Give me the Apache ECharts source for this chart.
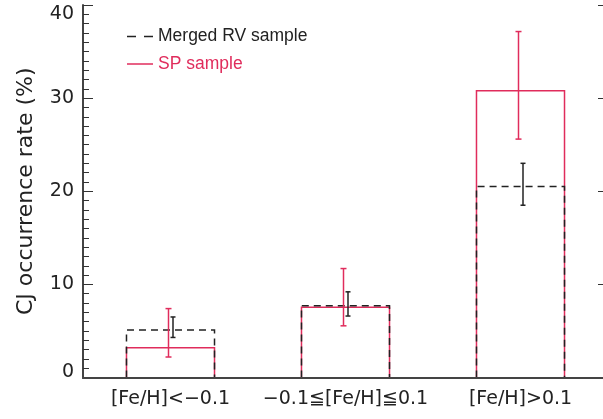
<!DOCTYPE html>
<html>
<head>
<meta charset="utf-8">
<script src="https://cdn.jsdelivr.net/npm/echarts@6/dist/echarts.min.js"></script>
<style>html,body{margin:0;padding:0;background:#fff;overflow:hidden;}#chart{width:610px;height:419px;}</style>
</head>
<body>
<div id="chart"></div>
<script>
const categories = ['[Fe/H]<\u22120.1', '\u22120.1\u2266[Fe/H]\u22660.1', '[Fe/H]>0.1'];
const mergedRate = [5.1, 7.7, 20.5];
const mergedLow = [4.3, 6.6, 18.5];
const mergedHigh = [6.5, 9.2, 23.0];
const spRate = [3.2, 7.55, 30.8];
const spLow = [2.2, 5.55, 25.6];
const spHigh = [7.4, 11.7, 37.15];
const yMin = 0, yMax = 40, yStep = 10;

const RED = '#e02c5c';
const BLACK = '#222';
const BAR_FRAC = 0.503;

function outlineRender(color, dash) {
  return function (params, api) {
    const top = api.coord([api.value(0), api.value(1)]);
    const base = api.coord([api.value(0), 0]);
    const w = api.size([1, 0])[0] * BAR_FRAC;
    const x0 = top[0] - w / 2, x1 = top[0] + w / 2;
    return {
      type: 'polyline',
      shape: { points: [[x0, base[1]], [x0, top[1]], [x1, top[1]], [x1, base[1]]] },
      style: { stroke: color, lineWidth: 1.5, fill: null, lineDash: dash }
    };
  };
}
function errRender(color, offset, cap) {
  return function (params, api) {
    const lo = api.coord([api.value(0), api.value(1)]);
    const hi = api.coord([api.value(0), api.value(2)]);
    const x = lo[0] + offset;
    return {
      type: 'group',
      children: [
        { type: 'line', shape: { x1: x, y1: lo[1], x2: x, y2: hi[1] }, style: { stroke: color, lineWidth: 1.5 } },
        { type: 'line', shape: { x1: x - cap / 2, y1: lo[1], x2: x + cap / 2, y2: lo[1] }, style: { stroke: color, lineWidth: 1.5 } },
        { type: 'line', shape: { x1: x - cap / 2, y1: hi[1], x2: x + cap / 2, y2: hi[1] }, style: { stroke: color, lineWidth: 1.5 } }
      ]
    };
  };
}

const chart = echarts.init(document.getElementById('chart'), null, { renderer: 'canvas' });
chart.setOption({
  animation: false,
  backgroundColor: '#fff',
  grid: { left: 83, right: 2, top: 5, bottom: 41.5, containLabel: false },
  xAxis: [
    {
      type: 'category', data: categories, position: 'bottom', z: 5,
      axisLine: { lineStyle: { color: '#444', width: 2 } },
      axisTick: { show: false },
      axisLabel: { interval: 0, margin: 12, fontFamily: 'DejaVu Sans', fontSize: 19, color: '#222' }
    },
    {
      type: 'category', data: categories, position: 'top',
      axisLine: { lineStyle: { color: '#555', width: 2 } },
      axisTick: { show: false }, axisLabel: { show: false }
    }
  ],
  yAxis: [
    {
      type: 'value', min: yMin, max: yMax, interval: yStep, position: 'left',
      name: 'CJ occurrence rate (%)', nameLocation: 'middle', nameGap: 46,
      nameTextStyle: { fontFamily: 'DejaVu Sans', fontSize: 22, color: '#222' },
      axisLine: { show: true, lineStyle: { color: '#444', width: 2 } },
      axisTick: { show: true, inside: true, length: 10, lineStyle: { color: '#333', width: 1 } },
      minorTick: { show: true, splitNumber: 10, length: 6, lineStyle: { color: '#333', width: 1 } },
      splitLine: { show: false },
      axisLabel: { margin: 9, fontFamily: 'DejaVu Sans', fontSize: 19, color: '#222',
                   verticalAlignMaxLabel: 'top', verticalAlignMinLabel: 'bottom',
                   formatter: function (v) { return v === 0 ? '{z|0}' : String(v); },
                   rich: { z: { fontFamily: 'DejaVu Sans', fontSize: 19, color: '#222', lineHeight: 10 } } }
    },
    {
      type: 'value', min: yMin, max: yMax, interval: yStep, position: 'right',
      axisLine: { show: true, lineStyle: { color: '#444', width: 2 } },
      axisTick: { show: true, inside: true, length: 10, lineStyle: { color: '#333', width: 1 } },
      splitLine: { show: false }, axisLabel: { show: false }
    }
  ],
  series: [
    { type: 'custom', name: 'SP sample', z: 2, renderItem: outlineRender(RED, null),
      data: categories.map((c, i) => [i, spRate[i]]) },
    { type: 'custom', name: 'Merged RV sample', z: 3, renderItem: outlineRender(BLACK, [7, 5]),
      data: categories.map((c, i) => [i, mergedRate[i]]) },
    { type: 'custom', name: 'SP err', z: 4, renderItem: errRender(RED, -2, 6),
      data: categories.map((c, i) => [i, spLow[i], spHigh[i]]) },
    { type: 'custom', name: 'Merged err', z: 4, renderItem: errRender(BLACK, 2.5, 5),
      data: categories.map((c, i) => [i, mergedLow[i], mergedHigh[i]]) }
  ],
  graphic: [
    { type: 'line', shape: { x1: 127, y1: 36.5, x2: 153, y2: 36.5 }, style: { stroke: BLACK, lineWidth: 1.5, lineDash: [9, 8] } },
    { type: 'text', x: 158, y: 36.5, style: { text: 'Merged RV sample', fontFamily: 'Liberation Sans', fontSize: 17.5, fill: '#222', verticalAlign: 'middle' } },
    { type: 'line', shape: { x1: 127, y1: 64, x2: 153, y2: 64 }, style: { stroke: RED, lineWidth: 1.5 } },
    { type: 'text', x: 158, y: 64, style: { text: 'SP sample', fontFamily: 'Liberation Sans', fontSize: 17.5, fill: RED, verticalAlign: 'middle' } }
  ]
});
</script>
</body>
</html>
